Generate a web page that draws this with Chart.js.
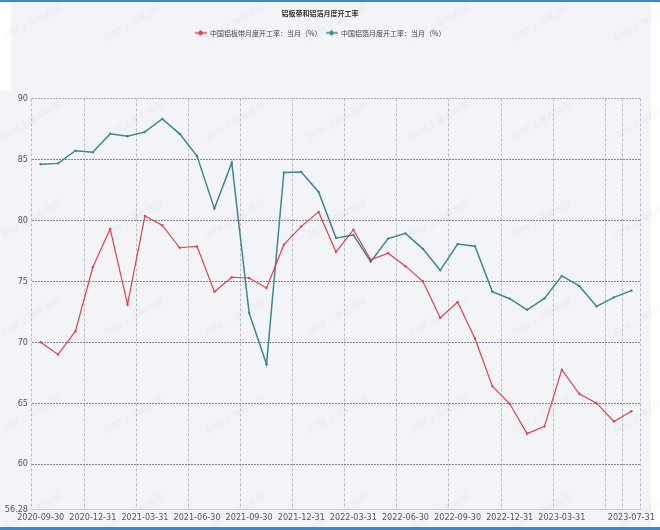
<!DOCTYPE html>
<html>
<head>
<meta charset="utf-8">
<script src="https://cdn.jsdelivr.net/npm/chart.js@4.4.0/dist/chart.umd.min.js"></script>
<style>
  html, body { margin: 0; padding: 0; background: #fff; }
  #wrap { position: relative; width: 660px; height: 530px; }
</style>
</head>
<body>
<div id="wrap"><canvas id="chart" width="660" height="530"></canvas></div>
<script>
const months = [
    '2020-09-30', '2020-10-31', '2020-11-30', '2020-12-31', '2021-01-31', '2021-02-28',
    '2021-03-31', '2021-04-30', '2021-05-31', '2021-06-30', '2021-07-31', '2021-08-31',
    '2021-09-30', '2021-10-31', '2021-11-30', '2021-12-31', '2022-01-31', '2022-02-28',
    '2022-03-31', '2022-04-30', '2022-05-31', '2022-06-30', '2022-07-31', '2022-08-31',
    '2022-09-30', '2022-10-31', '2022-11-30', '2022-12-31', '2023-01-31', '2023-02-28',
    '2023-03-31', '2023-04-30', '2023-05-31', '2023-06-30', '2023-07-31'
];

// 中国铝板带月度开工率
const plateRate = [
    70.0, 69.0, 70.9, 76.15, 79.3, 73.1, 80.36, 79.6, 77.75, 77.86,
    74.15, 75.33, 75.27, 74.45, 78.0, 79.5, 80.69, 77.4, 79.23, 76.76,
    77.3, 76.24, 75.0, 72.0, 73.3, 70.3, 66.4, 64.95, 62.5, 63.1,
    67.75, 65.77, 65.0, 63.5, 64.34
];

// 中国铝箔月度开工率
const foilRate = [
    84.6, 84.67, 85.71, 85.58, 87.1, 86.9, 87.25, 88.32, 87.09, 85.27,
    80.96, 84.73, 72.4, 68.2, 83.93, 83.96, 82.33, 78.54, 78.8, 76.6,
    78.5, 78.93, 77.66, 75.9, 78.05, 77.88, 74.15, 73.57, 72.66, 73.6,
    75.44, 74.62, 72.94, 73.68, 74.23
];

const yTicks = [56.28, 60, 65, 70, 75, 80, 85, 90];
const labelIdx = [0, 3, 6, 9, 12, 15, 18, 21, 24, 27, 30, 34];
const gridIdx = [0, 3, 6, 9, 12, 15, 18, 21, 24, 27, 30, 33, 34];

const RED = '#d8434f';
const TEAL = '#3d8790';
const tickFont = { family: "'Liberation Sans Narrow', 'DejaVu Sans Condensed', 'Liberation Sans', sans-serif", size: 9 };
const cjkFont = "'Noto Sans CJK SC', 'Noto Sans', sans-serif";

function makeMark(color) {
    const c = document.createElement('canvas');
    c.width = 12; c.height = 7;
    const g = c.getContext('2d');
    g.strokeStyle = color; g.lineWidth = 1.5;
    g.beginPath(); g.moveTo(0, 3.5); g.lineTo(12, 3.5); g.stroke();
    g.fillStyle = color;
    g.beginPath(); g.moveTo(6, 0.5); g.lineTo(9, 3.5); g.lineTo(6, 6.5); g.lineTo(3, 3.5); g.closePath(); g.fill();
    return c;
}
const legendMarks = [makeMark(RED), makeMark(TEAL)];

const backdrop = {
    id: 'backdrop',
    beforeDraw(chart) {
        const { ctx, width, height } = chart;
        ctx.save();
        ctx.fillStyle = '#ffffff';
        ctx.fillRect(0, 0, width, height);
        ctx.fillStyle = '#f3f4f7';
        ctx.fillRect(11, 0, 640, 527);
        ctx.fillRect(0, 90, 11, 437);
        ctx.fillStyle = '#3a89d3';
        ctx.fillRect(0, 0, width, 2);
        ctx.fillRect(0, 527, width, 3);
        // watermark
        ctx.fillStyle = 'rgba(150, 155, 170, 0.09)';
        ctx.font = "italic 9px " + cjkFont;
        ctx.textAlign = 'center';
        ctx.textBaseline = 'middle';
        for (let row = 0; row < 6; row++) {
            for (let col = 0; col < 7; col++) {
                ctx.save();
                ctx.translate(30 + col * 102, 23 + row * 98);
                ctx.rotate(-Math.PI / 6);
                ctx.fillText('SMM 上海有色网', 0, 0);
                ctx.restore();
            }
        }
        ctx.restore();
    }
};

const legendSpacer = {
    id: 'legendSpacer',
    beforeInit(chart) {
        const fit = chart.legend.fit;
        chart.legend.fit = function () {
            fit.call(this);
            this.height += 52;
        };
    }
};

new Chart(document.getElementById('chart'), {
    type: 'line',
    data: {
        labels: months,
        datasets: [{
            label: '中国铝板带月度开工率：当月（%）',
            data: plateRate,
            borderColor: RED,
            backgroundColor: RED,
            borderWidth: 1.2,
            pointRadius: 1.2,
            pointBorderWidth: 0,
            tension: 0
        }, {
            label: '中国铝箔月度开工率：当月（%）',
            data: foilRate,
            borderColor: TEAL,
            backgroundColor: TEAL,
            borderWidth: 1.5,
            pointRadius: 1.2,
            pointBorderWidth: 0,
            tension: 0
        }]
    },
    options: {
        responsive: false,
        animation: false,
        layout: { padding: { left: 0, right: 20, top: 0, bottom: 0 } },
        plugins: {
            tooltip: { enabled: false },
            title: {
                display: true,
                text: '铝板带和铝箔月度开工率',
                color: '#333',
                font: { family: cjkFont, size: 7, weight: 'bold' },
                padding: { top: 9, bottom: 8 }
            },
            legend: {
                display: true,
                labels: {
                    usePointStyle: true,
                    pointStyleWidth: 12,
                    padding: 4,
                    color: '#444',
                    font: { family: cjkFont, size: 7 },
                    generateLabels: chart => chart.data.datasets.map((ds, i) => ({
                        text: ds.label,
                        pointStyle: legendMarks[i],
                        fillStyle: ds.borderColor,
                        strokeStyle: ds.borderColor,
                        lineWidth: 0,
                        fontColor: '#444',
                        hidden: false,
                        datasetIndex: i
                    }))
                }
            }
        },
        scales: {
            x: {
                type: 'category',
                offset: true,
                grid: {
                    offset: true,
                    drawTicks: false,
                    lineWidth: 1,
                    color: ctx => (ctx.index === undefined || gridIdx.includes(ctx.index)) ? '#b9bdc8' : 'transparent'
                },
                border: { display: true, color: '#c9cdd6', dash: [3, 2] },
                ticks: {
                    autoSkip: false,
                    maxRotation: 0,
                    padding: 3,
                    color: '#555',
                    font: tickFont,
                    callback: (v, i) => labelIdx.includes(i) ? months[i] : ''
                },
                afterFit: s => { s.height = 20.5; }
            },
            y: {
                min: 56.28,
                max: 90,
                afterBuildTicks: s => { s.ticks = yTicks.map(v => ({ value: v })); },
                grid: {
                    drawTicks: false,
                    lineWidth: 1,
                    color: ctx => {
                        const v = ctx.tick && ctx.tick.value;
                        if (v === yTicks[0]) return 'transparent';
                        if (v === 90) return '#a9adbb';
                        return '#7d8199';
                    }
                },
                border: { display: false, dash: [2, 1] },
                ticks: {
                    padding: 4,
                    color: '#555',
                    font: tickFont,
                    callback: v => String(v)
                },
                afterFit: s => { s.width = 32; }
            }
        }
    },
    plugins: [backdrop, legendSpacer]
});
</script>
</body>
</html>
